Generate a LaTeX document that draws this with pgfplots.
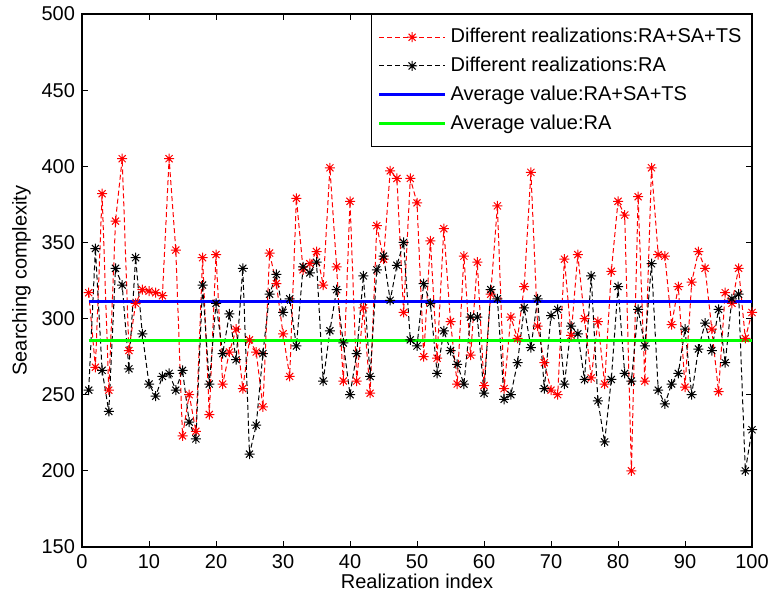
\documentclass[border=0pt]{standalone}
\usepackage{fontspec}
\setmainfont{Liberation Sans}
\usepackage{pgfplots}
\pgfplotsset{compat=1.18}
\usepackage{pgfplotstable}
\definecolor{mred}{rgb}{1,0,0}
\definecolor{mgreen}{rgb}{0,1,0}
\definecolor{mblue}{rgb}{0,0,1}
\pgfdeclareplotmark{mstar}{%
 \pgfpathmoveto{\pgfqpoint{-\pgfplotmarksize}{0pt}}\pgfpathlineto{\pgfqpoint{\pgfplotmarksize}{0pt}}%
 \pgfpathmoveto{\pgfqpoint{0pt}{-\pgfplotmarksize}}\pgfpathlineto{\pgfqpoint{0pt}{\pgfplotmarksize}}%
 \pgfpathmoveto{\pgfqpoint{-.707\pgfplotmarksize}{-.707\pgfplotmarksize}}\pgfpathlineto{\pgfqpoint{.707\pgfplotmarksize}{.707\pgfplotmarksize}}%
 \pgfpathmoveto{\pgfqpoint{-.707\pgfplotmarksize}{.707\pgfplotmarksize}}\pgfpathlineto{\pgfqpoint{.707\pgfplotmarksize}{-.707\pgfplotmarksize}}%
 \pgfusepathqstroke}
\pgfplotstableread{
i r b
1 317 253
2 268 346
3 382 266
4 253 239
5 364 333
6 405 322
7 279 267
8 310 340
9 319 290
10 318 257
11 317 249
12 315 262
13 405 264
14 345 253
15 223 266
16 250 232
17 226 221
18 340 322
19 237 257
20 342 310
21 257 277
22 278 303
23 293 273
24 254 333
25 286 211
26 278 230
27 242 277
28 343 316
29 323 329
30 290 304
31 262 313
32 379 282
33 332 334
34 336 330
35 344 337
36 322 259
37 399 292
38 334 319
39 259 284
40 377 250
41 259 277
42 307 328
43 251 262
44 361 332
45 339 341
46 397 312
47 392 335
48 304 350
49 392 286
50 376 282
51 275 323
52 351 310
53 274 264
54 359 292
55 298 279
56 257 270
57 341 257
58 276 301
59 337 301
60 256 251
61 316 319
62 374 313
63 254 247
64 301 250
65 287 271
66 321 307
67 396 281
68 295 313
69 271 254
70 253 302
71 250 306
72 339 257
73 289 295
74 342 290
75 300 260
76 261 328
77 298 246
78 257 219
79 331 260
80 377 321
81 368 264
82 200 259
83 380 306
84 259 282
85 399 336
86 342 253
87 341 244
88 296 257
89 321 264
90 255 293
91 324 250
92 344 280
93 333 297
94 293 279
95 252 306
96 317 271
97 310 313
98 333 316
99 287 200
100 304 227
}\datatable
\begin{document}
\begin{tikzpicture}
\begin{axis}[
 width=335pt, height=266.5pt, scale only axis,
 xmin=0, xmax=100, ymin=150, ymax=500,
 xtick={0,10,...,100}, ytick={150,200,...,500},
 tick align=inside, major tick length=3pt,
 /pgf/number format/assume math mode=true,
 font=\fontsize{10}{12}\selectfont,
 xlabel={Realization index}, ylabel={Searching complexity},
 xlabel style={yshift=4pt}, ylabel style={yshift=-1.5pt},
 axis line style={line width=0.6pt},
 every tick/.style={black, line width=0.5pt},
 legend style={at={(1,1)}, anchor=north east, draw=black, line width=0.5pt,
   font=\fontsize{10}{12}\selectfont, cells={anchor=west}, row sep=1.6pt,
   inner xsep=3pt, inner ysep=5pt},
 legend image code/.code={\draw[mark repeat=2,mark phase=2] plot coordinates {(0pt,0pt) (16.5pt,0pt) (33pt,0pt)};},
]
\addplot[mred, line width=0.5pt, dash pattern=on 2.5pt off 1.5pt, mark=mstar, mark size=2.5pt, mark options={solid}] table[x=i,y=r]{\datatable};
\addplot[black, line width=0.5pt, dash pattern=on 2.5pt off 1.5pt, mark=mstar, mark size=2.5pt, mark options={solid}] table[x=i,y=b]{\datatable};
\addplot[mblue, line width=1.5pt] coordinates {(1,311.5) (100,311.5)};
\addplot[mgreen, line width=1.5pt] coordinates {(1,285.3) (100,285.3)};
\legend{Different realizations:RA+SA+TS, Different realizations:RA, Average value:RA+SA+TS, Average value:RA}
\end{axis}
\pgfresetboundingbox
\path[use as bounding box] ([xshift=-41pt,yshift=-25pt]current axis.south west) rectangle ([xshift=8.5pt,yshift=7pt]current axis.north east);
\end{tikzpicture}
\end{document}
